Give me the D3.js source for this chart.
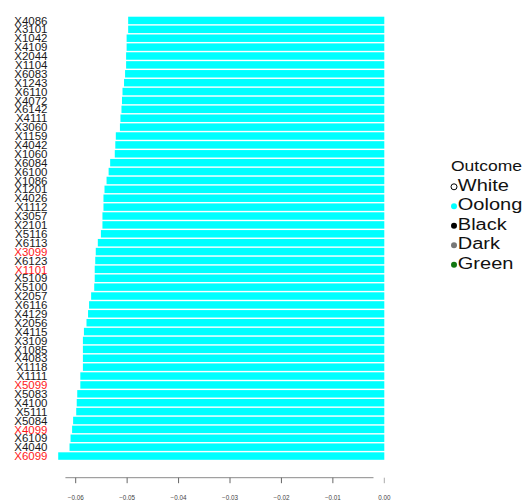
<!DOCTYPE html>
<html><head><meta charset="utf-8">
<script src="https://cdn.jsdelivr.net/npm/d3@7"></script>
<style>body{margin:0;background:#fff}svg{display:block}</style>
</head><body>
<script>
const categories = ["X4086","X3101","X1042","X4109","X2044","X1104","X6083","X1243","X6110","X4072","X6142","X4111","X3060","X1159","X4042","X1060","X6084","X6100","X1086","X1201","X4026","X1112","X3057","X2101","X5116","X6113","X3099","X6123","X1101","X5109","X5100","X2057","X6116","X4129","X2056","X4115","X3109","X1085","X4083","X1118","X1111","X5099","X5083","X4100","X5111","X5084","X4099","X6109","X4040","X6099"];
const values = [-0.0498,-0.0498,-0.0501,-0.0501,-0.0502,-0.0502,-0.0504,-0.0506,-0.0509,-0.0510,-0.0511,-0.0513,-0.0514,-0.0522,-0.0523,-0.0524,-0.0533,-0.0536,-0.0540,-0.0544,-0.0546,-0.0546,-0.0548,-0.0548,-0.0551,-0.0557,-0.0561,-0.0562,-0.0563,-0.0563,-0.0564,-0.0570,-0.0574,-0.0576,-0.0579,-0.0584,-0.0586,-0.0586,-0.0586,-0.0586,-0.0591,-0.0591,-0.0597,-0.0598,-0.0599,-0.0605,-0.0607,-0.0610,-0.0612,-0.0634];
const highlighted = ["X3099","X1101","X5099","X4099","X6099"];
const tickValues = [-0.06,-0.05,-0.04,-0.03,-0.02,-0.01,0.00];
const legendLabels = ["White","Oolong","Black","Dark","Green"];
const legendColors = ["#ffffff","#00ffff","#000000","#777777","#117711"];
const legendTitle = "Outcome";

const W = 525, H = 502;
const svg = d3.select("body").append("svg").attr("width", W).attr("height", H);

const x = d3.scaleLinear().domain([-0.06, 0]).range([75.7, 384.3]);
const y = d3.scaleBand().domain(categories).range([16, 460.5]).paddingInner(0.16).paddingOuter(0.08);

svg.append("g").selectAll("rect").data(categories).join("rect")
  .attr("x", (d,i) => x(values[i]))
  .attr("y", d => y(d))
  .attr("width", (d,i) => x(0) - x(values[i]))
  .attr("height", y.bandwidth())
  .attr("fill", "#00ffff");

svg.append("g").selectAll("text").data(categories).join("text")
  .attr("x", 47.5)
  .attr("y", d => y(d) + y.bandwidth()/2)
  .attr("dy", "0.36em")
  .attr("text-anchor", "end")
  .attr("font-family", "Liberation Sans, Arial, sans-serif")
  .attr("font-size", 11.5)
  .attr("fill", d => highlighted.includes(d) ? "#ff1a1a" : "#1a1a1a")
  .text(d => d);

// x axis
const axisY = 477.7;
const ax = svg.append("g");
ax.append("line").attr("x1", x(-0.062)).attr("x2", x(-0.0021))
  .attr("y1", axisY).attr("y2", axisY).attr("stroke", "#8a8a8a").attr("stroke-width", 1);
ax.selectAll("line.t").data(tickValues).join("line").attr("class","t")
  .attr("x1", d => x(d)).attr("x2", d => x(d))
  .attr("y1", axisY).attr("y2", axisY + 5.5)
  .attr("stroke", d => d === 0 ? "#aaaaaa" : "#666666").attr("stroke-width", 1);
ax.selectAll("text").data(tickValues).join("text")
  .attr("x", d => x(d)).attr("y", 499.5)
  .attr("text-anchor", "middle")
  .attr("font-family", "Liberation Sans, Arial, sans-serif")
  .attr("font-size", 6.3)
  .attr("fill", "#444")
  .text(d => d3.format(".2f")(d));

// legend
const lg = svg.append("g");
lg.append("text").attr("transform", "translate(451,170.5) scale(1.13,1)").text(legendTitle)
  .attr("font-family", "Liberation Sans, Arial, sans-serif").attr("font-size", 15.5)
  .attr("fill", "#111");
const items = lg.selectAll("g.item").data(legendLabels).join("g").attr("class","item")
  .attr("transform", (d,i) => `translate(0,${190.8 + i*19.5})`);
items.append("circle").attr("cx", 454).attr("cy", -4).attr("r", 3)
  .attr("fill", (d,i) => legendColors[i])
  .attr("stroke", (d,i) => i === 0 ? "#000" : "none").attr("stroke-width", 1);
items.append("text").attr("transform", "translate(457.8,0) scale(1.25,1)")
  .attr("font-family", "Liberation Sans, Arial, sans-serif").attr("font-size", 16)
  .attr("fill", "#111")
  .text(d => d);
</script>
</body></html>
